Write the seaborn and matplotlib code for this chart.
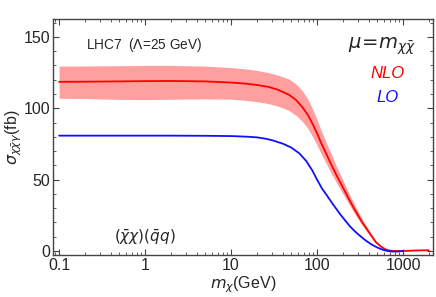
import numpy as np
import pandas as pd
import matplotlib
matplotlib.use('Agg')
import matplotlib.pyplot as plt
import seaborn as sns
from matplotlib.ticker import LogLocator, MultipleLocator, FixedLocator, FixedFormatter

# NLO curve with scale band
m_chi = [0.1, 0.2, 0.5, 1, 2, 5, 10, 15, 20, 27, 35, 47, 57, 67, 78, 88, 100, 110,
         125, 140, 155, 172, 200, 237, 268, 300, 340, 373, 420, 482, 550, 630, 700,
         800, 1000, 1300, 1600, 2000]
nlo = [118.5, 118.6, 118.8, 119, 119.1, 118.8, 118, 117.2, 116.3, 115, 113, 109.5,
       105.8, 101, 95.5, 89.5, 82.5, 76.5, 69.5, 63, 57.5, 52, 44.5, 36, 30, 25,
       19.5, 16, 11.5, 6.3, 3.3, 1.0, 0.3, 0, 0, 0.3, 0.45, 0.5]
nlo_hi = [129.5, 129.6, 129.8, 130, 130, 129.5, 128.5, 127.5, 126.5, 125, 123.2, 120.5,
          117, 112.5, 106.5, 100, 92, 85.5, 77.5, 70.5, 64.5, 58, 49.5, 40, 33.5,
          27.8, 21.7, 17.8, 12.7, 7, 3.7, 1.2, 0.4, 0.1, 0.1, 0.4, 0.55, 0.6]
nlo_lo = [107, 106.8, 106.2, 106, 106.3, 106.6, 106.3, 105.5, 104.6, 103.3, 101.5,
          98.5, 95, 91, 86, 80.5, 74.2, 69, 62.5, 56.7, 51.8, 46.8, 40, 32.4, 27,
          22.5, 17.6, 14.4, 10.4, 5.7, 3, 0.9, 0.2, -0.1, -0.1, 0.2, 0.35, 0.4]

# LO curve
m_lo = [0.1, 0.2, 0.5, 1, 2, 5, 10, 15, 20, 25, 30, 40, 50, 62, 75, 88, 100, 115,
        130, 150, 170, 190, 215, 240, 270, 300, 340, 380, 435, 500, 575, 650, 750,
        850, 1000]
lo = [80.8, 80.8, 80.8, 80.8, 80.8, 80.7, 80.5, 80.1, 79.6, 78.7, 77.6, 75.2, 72.5,
      68.5, 63, 56.5, 50, 43.5, 39, 33.5, 29, 25, 21, 17.5, 14.3, 11.8, 9, 6.8, 4.4,
      2.5, 1.0, 0.1, -0.4, -0.4, 0]

x_ticks = [0.1, 1, 10, 100, 1000]
x_labels = ['0.1', '1', '10', '100', '1000']
y_ticks = [0, 50, 100, 150]

sns.set_style('ticks')
plt.rcParams['font.family'] = ['Liberation Sans', 'DejaVu Sans']
plt.rcParams['mathtext.fontset'] = 'dejavusans'

fig = plt.figure(figsize=(4.36, 2.97), dpi=100)
ax = fig.add_axes([0.1216, 0.1414, 0.8714, 0.7946])

df_nlo = pd.DataFrame({'m': m_chi, 'sigma': nlo})
df_lo = pd.DataFrame({'m': m_lo, 'sigma': lo})

ax.fill_between(m_chi, nlo_lo, nlo_hi, color='#ff5050', alpha=0.55, lw=0)
sns.lineplot(data=df_nlo, x='m', y='sigma', color='red', lw=1.3, ax=ax)
sns.lineplot(data=df_lo, x='m', y='sigma', color='#1010ff', lw=1.3, ax=ax)

ax.set_xscale('log')
ax.set_xlim(0.085, 2230)
ax.set_ylim(-2.8, 162.5)
ax.xaxis.set_major_locator(FixedLocator(x_ticks))
ax.xaxis.set_major_formatter(FixedFormatter(x_labels))
ax.xaxis.set_minor_locator(LogLocator(base=10, subs=np.arange(2, 10)))
ax.yaxis.set_major_locator(FixedLocator(y_ticks))
ax.yaxis.set_minor_locator(MultipleLocator(10))
ax.tick_params(which='both', direction='in', top=True, right=True, labelsize=11.5,
               color='#444444', pad=2)
ax.tick_params(which='major', length=4, width=0.8)
ax.tick_params(which='minor', length=2, width=0.6)
for s in ax.spines.values():
    s.set_color('#444444')
    s.set_linewidth(1.0)

ax.set_xlabel(r'$m_{\chi}$(GeV)', fontsize=11.5, labelpad=1)
ax.set_ylabel(r'$\sigma_{\chi\bar{\chi}\gamma}$(fb)', fontsize=11.5, labelpad=0)

ax.text(0.088, 0.875, r'LHC7  ($\Lambda$=25 GeV)', transform=ax.transAxes,
        fontsize=9.8)
ax.text(0.955, 0.875, r'$\mu\!=\!m_{\chi\bar{\chi}}$', transform=ax.transAxes,
        fontsize=14, ha='right')
ax.text(0.925, 0.75, 'NLO', transform=ax.transAxes, fontsize=12, color='red',
        style='italic', ha='right')
ax.text(0.91, 0.65, 'LO', transform=ax.transAxes, fontsize=12, color='#1010ff',
        style='italic', ha='right')
ax.text(0.16, 0.055, r'$(\bar{\chi}\chi)(\bar{q}q)$', transform=ax.transAxes,
        fontsize=11)

fig.savefig('out.png', dpi=100)
